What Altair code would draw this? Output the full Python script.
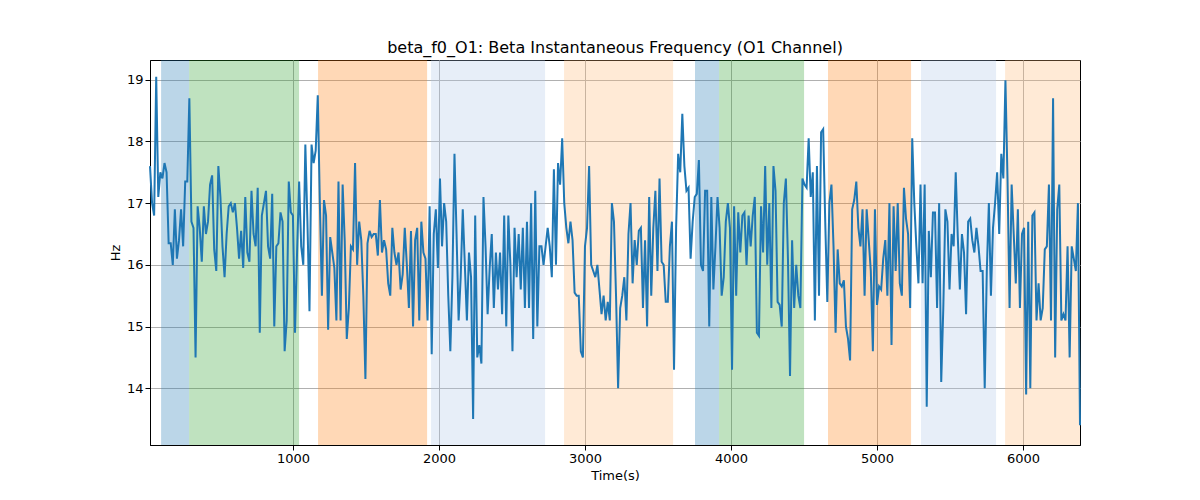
import altair as alt
import numpy as np
import pandas as pd

# Beta instantaneous frequency (Hz)
freq = [
    17.6, 17.0, 16.8, 19.05, 17.1, 17.5, 17.4, 17.65, 17.5, 16.35, 16.35, 16.0, 16.9, 16.1, 16.4, 16.9,
    16.3, 17.35, 17.35, 18.7, 16.7, 16.6, 14.5, 16.95, 16.6, 16.05, 16.95, 16.5, 16.7, 17.3, 17.45, 16.25,
    15.9, 17.6, 17.1, 16.3, 15.8, 16.5, 16.95, 17.0, 16.85, 17.0, 16.6, 16.1, 16.55, 15.95, 17.1, 16.2,
    16.05, 17.2, 16.5, 16.3, 17.25, 14.9, 16.8, 17.0, 17.2, 16.3, 16.1, 17.15, 15.0, 16.3, 16.35, 16.85,
    16.7, 14.6, 15.1, 17.35, 16.85, 16.8, 14.9, 16.2, 17.35, 16.3, 16.0, 17.95,
    16.7, 15.25, 17.95, 17.65, 17.85, 18.75, 17.0, 15.5, 17.05, 16.8, 14.95, 16.45, 16.2, 15.95, 15.1, 17.35,
    15.1, 17.3, 16.4, 14.8, 15.3, 16.3, 16.25, 17.65, 16.0, 16.7, 16.4, 15.5, 14.15, 16.35, 16.55, 16.45,
    16.5, 16.5, 16.15, 17.05, 16.2, 16.4, 16.25, 15.7, 15.5, 16.6, 16.2, 16.0, 16.2, 15.6, 15.85, 16.6,
    16.0, 15.3, 16.55, 15.0, 16.4, 16.6, 15.1, 16.7, 16.2, 16.1, 15.1, 16.95, 14.55, 16.5, 16.9, 15.95,
    17.4, 16.3, 17.0, 16.7, 15.5, 14.6, 15.8, 17.8, 16.5, 15.1, 15.8,
    16.9, 16.0, 15.1, 16.2, 15.8, 13.5, 16.8, 14.5, 14.7, 14.4, 17.1, 16.3, 15.2, 15.95, 16.5, 15.3,
    16.2, 15.6, 16.2, 15.2, 16.8, 15.0, 16.8, 16.0, 14.6, 16.6, 15.8, 16.5, 15.6, 16.6, 15.3, 16.7,
    15.3, 17.0, 14.8, 17.2, 15.0, 16.3, 16.3, 16.0, 16.3, 16.6, 16.3, 15.8, 17.55, 16.0, 17.65, 17.3,
    18.05, 17.0, 16.6, 16.35, 16.7, 16.4, 15.55, 15.5, 15.5, 14.6, 14.5, 16.3, 16.6, 17.6, 16.0, 15.9,
    15.8, 16.0, 15.6, 15.2, 15.5, 15.1, 15.4, 15.1, 17.0, 16.7, 15.5, 14.0,
    15.3, 15.5, 15.8, 15.1, 16.5, 17.0, 15.7, 16.4, 16.0, 16.55, 16.6, 15.3, 16.4, 15.0, 17.1, 15.5,
    16.6, 17.2, 15.9, 17.4, 16.05, 16.0, 15.4, 15.4, 16.3, 16.7, 14.3, 16.6, 17.8, 17.5, 18.45, 17.6,
    17.2, 17.25, 16.1, 16.7, 17.1, 17.15, 17.7, 16.0, 15.9, 17.2, 17.2, 15.0, 17.1, 15.6, 16.3, 17.1,
    16.6, 15.5, 15.8, 16.7, 17.0, 16.6, 14.3, 16.95, 15.5, 16.85, 16.2, 16.8, 16.85, 16.0, 16.8, 16.3,
    16.8, 17.1, 14.9, 14.85, 16.95, 16.2, 17.6,
    16.0, 17.0, 15.3, 17.6, 17.2, 15.4, 15.35, 15.0, 17.0, 17.4, 16.1, 14.2, 16.4, 15.3, 16.0, 15.5,
    15.3, 17.4, 17.3, 17.25, 18.05, 17.1, 17.5, 15.1, 17.6, 15.5, 18.15, 18.2, 16.7, 15.4, 17.0, 17.3,
    16.3, 14.9, 16.25, 15.7, 15.65, 15.75, 15.0, 14.8, 14.45, 16.9, 17.05, 17.35, 16.6, 16.3, 16.9, 15.5,
    16.9, 16.4, 15.9, 14.6, 16.9, 15.35, 15.65, 15.6, 16.1, 16.4, 15.5, 17.0, 14.7, 16.95, 15.9, 17.0,
    15.7, 15.5, 17.25, 16.75, 16.5, 15.3, 18.05, 17.0, 16.3, 15.7, 17.3,
    15.7, 17.3, 13.7, 16.55, 15.8, 16.85, 16.85, 15.3, 17.0, 14.1, 15.3, 16.9, 16.7, 15.6, 16.5, 16.3,
    17.5, 16.45, 15.6, 16.5, 16.2, 15.2, 16.7, 16.75, 16.4, 16.2, 16.6, 16.3, 15.9, 15.9, 14.0, 15.9,
    17.0, 15.5, 16.6, 17.0, 17.5, 16.5, 17.8, 17.4, 18.99, 17.4, 15.3, 17.3, 16.5, 15.7, 16.9, 15.3,
    16.5, 16.6, 13.9, 16.7, 14.0, 16.8, 16.85, 15.1, 15.7, 15.1, 15.3, 16.25, 16.3, 17.3, 15.1, 18.7,
    14.5, 16.9, 17.3, 15.1, 15.2, 15.1, 16.3, 14.5, 16.3, 16.1, 15.9, 17.0, 13.4,
]
t_start, t_end = 20, 6390
times = np.linspace(t_start, t_end, len(freq))

# shaded segments
seg_start = [96, 288, 1171, 1945, 2856, 3753, 3918, 4664, 5301, 5877]
seg_end = [288, 1041, 1918, 2726, 3603, 3918, 4500, 5233, 5815, 6390]
seg_color = ["#1f77b4", "#2ca02c", "#ff7f0e", "#aec7e8", "#ffbb78",
             "#1f77b4", "#2ca02c", "#ff7f0e", "#aec7e8", "#ffbb78"]

df = pd.DataFrame({"t": times, "hz": freq})
bands = pd.DataFrame({"start": seg_start, "end": seg_end, "color": seg_color})

xs = alt.Scale(domain=[t_start, t_end], nice=False, zero=False)
ys = alt.Scale(domain=[13.08, 19.32], nice=False, zero=False)

rects = alt.Chart(bands).mark_rect(opacity=0.3).encode(
    x=alt.X("start:Q", scale=xs),
    x2="end:Q",
    color=alt.Color("color:N", scale=None),
)

line = alt.Chart(df).mark_line(color="#1f77b4", strokeWidth=2).encode(
    x=alt.X("t:Q", scale=xs, title="Time(s)",
            axis=alt.Axis(values=[1000, 2000, 3000, 4000, 5000, 6000], format="d")),
    y=alt.Y("hz:Q", scale=ys, title="Hz",
            axis=alt.Axis(values=[14, 15, 16, 17, 18, 19])),
)

chart = (rects + line).properties(
    width=930,
    height=385,
    title="beta_f0_O1: Beta Instantaneous Frequency (O1 Channel)",
    autosize=alt.AutoSizeParams(type="none"),
    padding={"left": 142, "top": 52, "right": 110, "bottom": 50},
    background="white",
).configure_axis(
    grid=True,
    gridColor="#b0b0b0",
    gridWidth=1,
    domainColor="black",
    tickColor="black",
    labelColor="black",
    titleColor="black",
    labelFontSize=13,
    titleFontSize=13,
    titleFontWeight="normal",
    labelFont="DejaVu Sans",
    titleFont="DejaVu Sans",
).configure_title(
    font="DejaVu Sans", fontSize=16, fontWeight="normal", color="black",
).configure_view(
    stroke="black", strokeWidth=1,
)

chart.save("out.html", embed_options={"renderer": "svg", "actions": False})
